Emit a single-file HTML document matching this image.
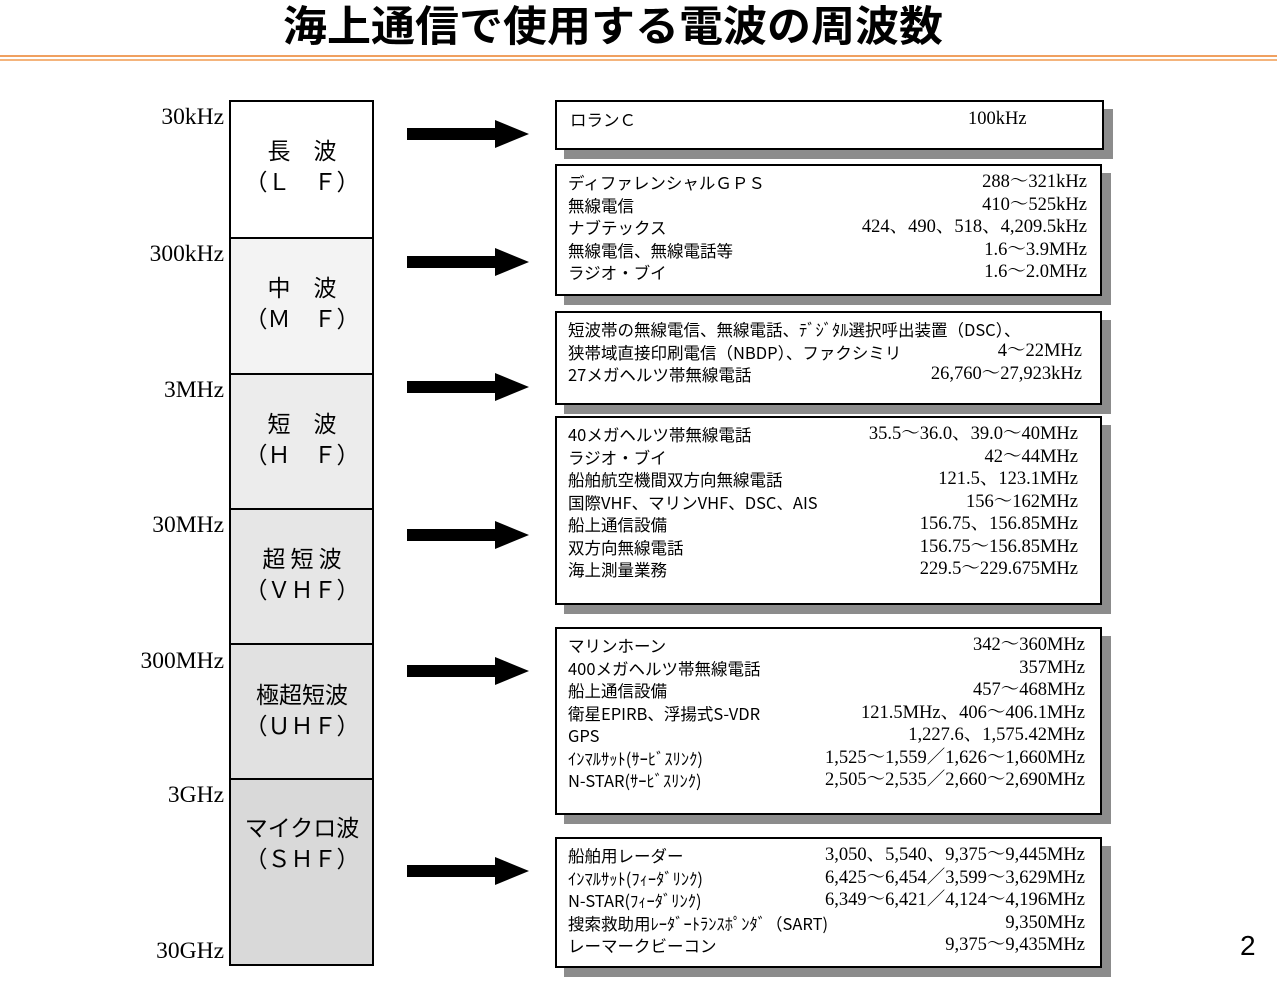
<!DOCTYPE html>
<html><head><meta charset="utf-8"><style>
body{margin:0;width:1277px;height:991px;background:#fff;position:relative;overflow:hidden;font-family:"Liberation Serif","Noto Serif CJK SC","Noto Sans CJK JP",serif;}
.a{position:absolute;white-space:nowrap}
.title{left:0;width:1226px;top:0;text-align:center;font-family:"Noto Sans CJK JP",sans-serif;font-weight:bold;font-size:44px;line-height:46px;transform:scaleY(0.95)}
.freq{font-size:23.5px;right:1053px;text-align:right}
.band{position:absolute;left:229px;width:145px;border:2px solid #000;box-sizing:border-box}
.lbl{font-family:"Noto Sans CJK JP",sans-serif;font-size:23px;text-align:center;line-height:31px;position:absolute;left:229px;width:146px}
.box{position:absolute;border:2px solid #000;background:#fff;box-shadow:9px 9px 0 #8c8c8c;box-sizing:border-box}
.t{position:absolute;font-family:"Noto Sans CJK JP",sans-serif;font-size:16.5px;line-height:22.5px;white-space:nowrap}
.r{position:absolute;font-family:"Liberation Serif","Noto Serif CJK JP",serif;font-size:18.5px;line-height:22.5px;white-space:nowrap;text-align:right}
.arr{position:absolute;left:407px;width:122px;height:28px}
</style></head><body>
<div class="a title">海上通信で使用する電波の周波数</div>
<div class="a" style="left:0;top:55px;width:1277px;height:2px;background:#f0a060"></div>
<div class="a" style="left:0;top:59px;width:1277px;height:2px;background:#f4b47c"></div>

<div class="a freq" style="top:104px">30kHz</div>
<div class="a freq" style="top:241px">300kHz</div>
<div class="a freq" style="top:377px">3MHz</div>
<div class="a freq" style="top:512px">30MHz</div>
<div class="a freq" style="top:648px">300MHz</div>
<div class="a freq" style="top:782px">3GHz</div>
<div class="a freq" style="top:938px">30GHz</div>

<div class="band" style="top:100px;height:139px;background:#fff"></div>
<div class="band" style="top:237px;height:138px;background:#f3f3f3"></div>
<div class="band" style="top:373px;height:137px;background:#ececec"></div>
<div class="band" style="top:508px;height:137px;background:#e6e6e6"></div>
<div class="band" style="top:643px;height:137px;background:#e1e1e1"></div>
<div class="band" style="top:778px;height:188px;background:#d9d9d9"></div>

<div class="lbl" style="top:134px">長　波<br>（Ｌ　Ｆ）</div>
<div class="lbl" style="top:271px">中　波<br>（Ｍ　Ｆ）</div>
<div class="lbl" style="top:407px">短　波<br>（Ｈ　Ｆ）</div>
<div class="lbl" style="top:542px">超 短 波<br>（ＶＨＦ）</div>
<div class="lbl" style="top:678px">極超短波<br>（ＵＨＦ）</div>
<div class="lbl" style="top:811px">マイクロ波<br>（ＳＨＦ）</div>

<svg class="arr" style="top:120px" viewBox="0 0 122 28"><polygon points="0,8 88,8 88,0 122,14 88,28 88,20 0,20"/></svg>
<svg class="arr" style="top:248px" viewBox="0 0 122 28"><polygon points="0,8 88,8 88,0 122,14 88,28 88,20 0,20"/></svg>
<svg class="arr" style="top:373px" viewBox="0 0 122 28"><polygon points="0,8 88,8 88,0 122,14 88,28 88,20 0,20"/></svg>
<svg class="arr" style="top:521px" viewBox="0 0 122 28"><polygon points="0,8 88,8 88,0 122,14 88,28 88,20 0,20"/></svg>
<svg class="arr" style="top:657px" viewBox="0 0 122 28"><polygon points="0,8 88,8 88,0 122,14 88,28 88,20 0,20"/></svg>
<svg class="arr" style="top:857px" viewBox="0 0 122 28"><polygon points="0,8 88,8 88,0 122,14 88,28 88,20 0,20"/></svg>

<div class="box" style="left:555px;top:100px;width:549px;height:50px"></div>
<div class="box" style="left:555px;top:164px;width:547px;height:132px"></div>
<div class="box" style="left:555px;top:311px;width:547px;height:94px"></div>
<div class="box" style="left:555px;top:416px;width:547px;height:189px"></div>
<div class="box" style="left:555px;top:627px;width:547px;height:188px"></div>
<div class="box" style="left:555px;top:837px;width:547px;height:131px"></div>

<div class="t" style="left:570px;top:108px">ロランＣ</div>
<div class="r" style="left:968px;top:108px">100kHz</div>

<div class="t" style="left:568px;top:171px">ディファレンシャルＧＰＳ<br>無線電信<br>ナブテックス<br>無線電信、無線電話等<br>ラジオ・ブイ</div>
<div class="r" style="right:190px;top:171px">288～321kHz<br>410～525kHz<br>424、490、518、4,209.5kHz<br>1.6～3.9MHz<br>1.6～2.0MHz</div>

<div class="t" style="left:568px;top:318px">短波帯の無線電信、無線電話、ﾃﾞｼﾞﾀﾙ選択呼出装置（DSC）、<br>狭帯域直接印刷電信（NBDP）、ファクシミリ<br>27メガヘルツ帯無線電話</div>
<div class="r" style="right:195px;top:340px">4～22MHz<br>26,760～27,923kHz</div>

<div class="t" style="left:568px;top:423px">40メガヘルツ帯無線電話<br>ラジオ・ブイ<br>船舶航空機間双方向無線電話<br>国際VHF、マリンVHF、DSC、AIS<br>船上通信設備<br>双方向無線電話<br>海上測量業務</div>
<div class="r" style="right:199px;top:423px">35.5～36.0、39.0～40MHz<br>42～44MHz<br>121.5、123.1MHz<br>156～162MHz<br>156.75、156.85MHz<br>156.75～156.85MHz<br>229.5～229.675MHz</div>

<div class="t" style="left:568px;top:634px">マリンホーン<br>400メガヘルツ帯無線電話<br>船上通信設備<br>衛星EPIRB、浮揚式S-VDR<br>GPS<br>ｲﾝﾏﾙｻｯﾄ(ｻｰﾋﾞｽﾘﾝｸ)<br>N-STAR(ｻｰﾋﾞｽﾘﾝｸ)</div>
<div class="r" style="right:192px;top:634px">342～360MHz<br>357MHz<br>457～468MHz<br>121.5MHz、406～406.1MHz<br>1,227.6、1,575.42MHz<br>1,525～1,559／1,626～1,660MHz<br>2,505～2,535／2,660～2,690MHz</div>

<div class="t" style="left:568px;top:844px">船舶用レーダー<br>ｲﾝﾏﾙｻｯﾄ(ﾌｨｰﾀﾞﾘﾝｸ)<br>N-STAR(ﾌｨｰﾀﾞﾘﾝｸ)<br>搜索救助用ﾚｰﾀﾞｰﾄﾗﾝｽﾎﾟﾝﾀﾞ（SART)<br>レーマークビーコン</div>
<div class="r" style="right:192px;top:844px">3,050、5,540、9,375～9,445MHz<br>6,425～6,454／3,599～3,629MHz<br>6,349～6,421／4,124～4,196MHz<br>9,350MHz<br>9,375～9,435MHz</div>

<div class="a" style="left:1240px;top:930px;font-family:'Liberation Sans',sans-serif;font-size:28px">2</div>
</body></html>
